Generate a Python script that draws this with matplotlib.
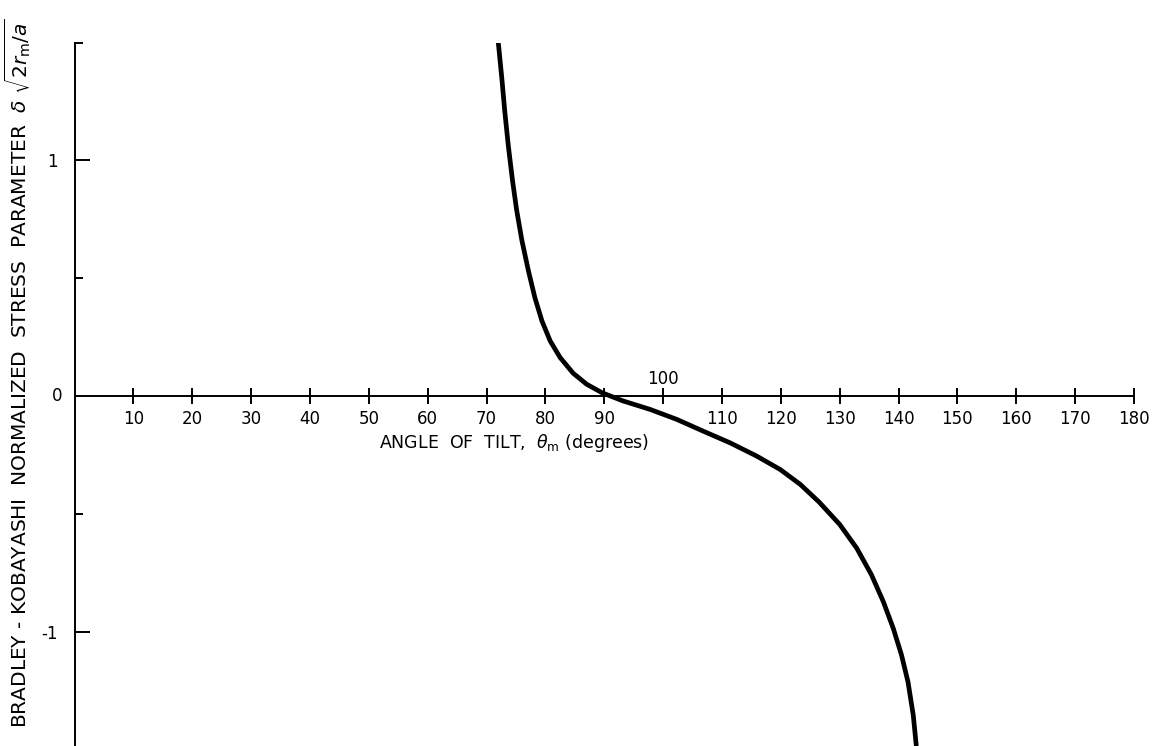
import matplotlib
matplotlib.use("Agg")
import matplotlib.pyplot as plt

# curve: tilt angle (deg) vs normalized stress parameter
theta = [72.0, 72.6, 73.1, 73.7, 74.4, 75.1, 76.0, 77.1, 78.2, 79.4, 80.8,
         82.5, 84.7, 87.0, 89.6, 93.2, 97.8, 102.3, 106.8, 111.4, 115.9,
         119.9, 123.3, 126.5, 130.0, 132.9, 135.4, 137.4, 139.1, 140.5,
         141.6, 142.5, 143.0]
param = [1.497, 1.345, 1.205, 1.06, 0.915, 0.79, 0.66, 0.532, 0.418, 0.319, 0.234,
         0.163, 0.097, 0.05, 0.014, -0.021, -0.057, -0.099, -0.149, -0.199, -0.255,
         -0.312, -0.375, -0.45, -0.545, -0.646, -0.759, -0.872, -0.986, -1.099,
         -1.213, -1.355, -1.482]

x_ticks = list(range(10, 190, 10))
x_labels = [str(t) if t != 100 else "" for t in x_ticks]
y_major = [1, -1]
y_major_labels = ["1", "-1"]
y_minor = [0.5, -0.5, 1.5]

plt.rcParams["font.family"] = ["DejaVu Sans"]

fig = plt.figure(figsize=(11.54, 7.46), dpi=100)
# 0 deg at x=74.6px, 180 deg at 1134px; y: 0 at 395px, 235 px per unit
ax = fig.add_axes([74.6 / 1154, 0.0, (1134 - 74.6) / 1154, (746 - 42.5) / 746])
ax.set_xlim(0, 180)
ax.set_ylim(-1.485, 1.5)

ax.plot(theta, param, color="black", lw=3.4, solid_capstyle="round", solid_joinstyle="round")

for s in ["top", "right"]:
    ax.spines[s].set_visible(False)
ax.spines["left"].set_linewidth(1.4)
ax.spines["bottom"].set_position(("data", 0))
ax.spines["bottom"].set_bounds(0, 180)
ax.spines["bottom"].set_linewidth(1.4)

ax.set_xticks(x_ticks)
ax.set_xticklabels(x_labels)
ax.tick_params(axis="x", direction="inout", length=12, width=1.4, pad=4, labelsize=12)
ax.text(100, 0.035, "100", ha="center", va="bottom", fontsize=12)

ax.set_yticks(y_major)
ax.set_yticklabels(y_major_labels)
ax.set_yticks(y_minor, minor=True)
ax.tick_params(axis="y", which="major", direction="in", length=11, width=1.4, pad=12, labelsize=12)
ax.tick_params(axis="y", which="minor", direction="in", length=6, width=1.4)
ax.text(-2.0, 0, "0", ha="right", va="center", fontsize=12)

ax.text(74.7, -0.2, r"ANGLE  OF  TILT,  $\theta_{\rm m}$ (degrees)", ha="center", va="center", fontsize=12.5)

fig.text(18 / 1154, 0.5,
         r"BRADLEY - KOBAYASHI  NORMALIZED  STRESS  PARAMETER  $\delta\ \sqrt{2r_{\rm m}/a}$",
         rotation=90, ha="center", va="center", fontsize=14.5)

fig.savefig("out.png", dpi=100)
